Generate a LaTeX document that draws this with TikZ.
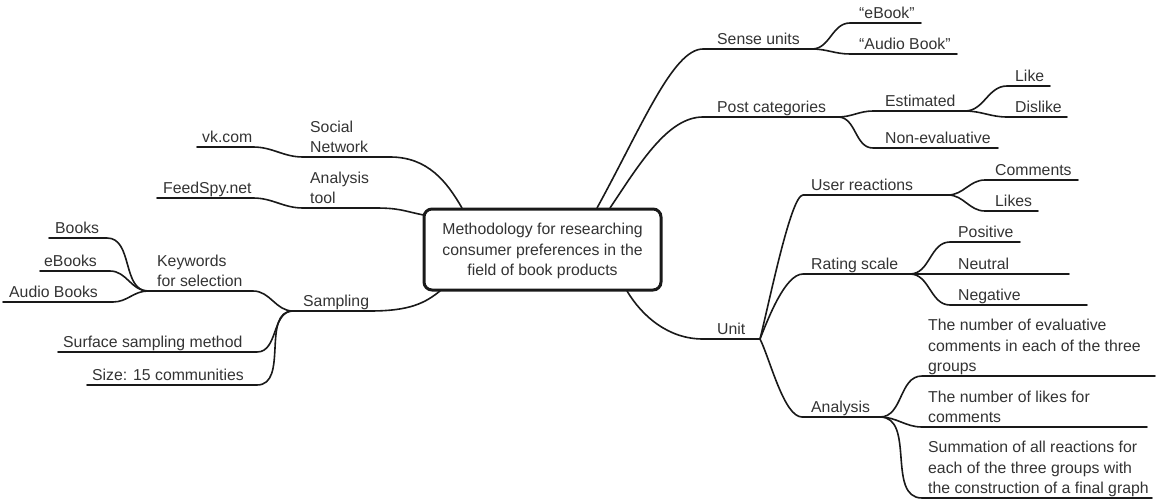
\documentclass[tikz,border=0pt]{standalone}
\usepackage{fontspec}
\setmainfont{Liberation Sans}
\definecolor{lc}{gray}{0.1}
\definecolor{tc}{gray}{0.2}
\newcommand\mapfont{\fontsize{15.8}{20.5}\selectfont}
\begin{document}
\begin{tikzpicture}[x=1pt,y=-1pt,
  br/.style={line width=1.6pt, draw=lc, line cap=round, line join=round},
  lbl/.style={anchor=south west, inner sep=0pt, text depth=0pt, align=left, font=\mapfont, text=tc},
  rootbox/.style={draw=lc, line width=3pt, rounded corners=8pt, minimum width=237pt, minimum height=81pt,
    align=center, font=\mapfont, text=tc, text depth=0pt, inner sep=0pt}]
\useasboundingbox (0,0) rectangle (1157,500);

% ---------- root ----------
\node[rootbox] (root) at (542.5,249.5) {Methodology for researching\\consumer preferences in the\\field of book products};
\coordinate (rTL) at (462,208);
\coordinate (rL) at (423.5,215);
\coordinate (rBL) at (440,291);
\coordinate (rTR1) at (597,208);
\coordinate (rTR2) at (610,208);
\coordinate (rBR) at (627,291);

% ---------- left coordinates ----------
\coordinate (vkL) at (197,147); \coordinate (vkR) at (253,147);
\coordinate (snL) at (303,157); \coordinate (snR) at (390,157);
\coordinate (fsL) at (157,198); \coordinate (fsR) at (253,198);
\coordinate (atL) at (303,208); \coordinate (atR) at (375,208);
\coordinate (kwL) at (148,291); \coordinate (kwR) at (253,291);
\coordinate (bkL) at (49,238);  \coordinate (bkR) at (107,238);
\coordinate (ebsL) at (40,271); \coordinate (ebsR) at (110,271);
\coordinate (adL) at (3,302);   \coordinate (adR) at (113,302);
\coordinate (spL) at (293,311); \coordinate (spR) at (370,311);
\coordinate (ssL) at (58,352);  \coordinate (ssR) at (257,352);
\coordinate (szL) at (87,385);  \coordinate (szR) at (257,385);

% ---------- right coordinates ----------
\coordinate (suL) at (703,49);  \coordinate (suR) at (812,49);
\coordinate (pcL) at (703,117); \coordinate (pcR) at (838,117);
\coordinate (ebL) at (850,23);  \coordinate (ebR) at (921,23);
\coordinate (abL) at (850,54);  \coordinate (abR) at (957,54);
\coordinate (esL) at (873,111); \coordinate (esR) at (965,111);
\coordinate (neL) at (873,148); \coordinate (neR) at (998,148);
\coordinate (lkL) at (1007,86); \coordinate (lkR) at (1050,86);
\coordinate (dlL) at (1007,117);\coordinate (dlR) at (1067,117);
\coordinate (unL) at (703,339); \coordinate (unR) at (760,339);
\coordinate (urL) at (803,195); \coordinate (urR) at (948,195);
\coordinate (cmL) at (985,180); \coordinate (cmR) at (1078,180);
\coordinate (liL) at (985,211); \coordinate (liR) at (1038,211);
\coordinate (rsL) at (803,274); \coordinate (rsR) at (910,274);
\coordinate (poL) at (950,242); \coordinate (poR) at (1020,242);
\coordinate (nuL) at (950,274); \coordinate (nuR) at (1069,274);
\coordinate (ngL) at (950,305); \coordinate (ngR) at (1087,305);
\coordinate (anL) at (802,417); \coordinate (anR) at (880,417);
\coordinate (evL) at (922,376); \coordinate (evR) at (1155,376);
\coordinate (lcL) at (922,427); \coordinate (lcR) at (1147,427);
\coordinate (smL) at (922,498); \coordinate (smR) at (1152,498);

% ---------- left branches ----------
\draw[br] (vkL) -- (vkR) to[out=0,in=180] (snL) -- (snR) .. controls +(38,0) and +(-15,-26) .. (rTL);
\draw[br] (fsL) -- (fsR) to[out=0,in=180] (atL) -- (atR) .. controls +(25,0) and +(-20,-4) .. (rL);
\draw[br] (kwL) -- (kwR) to[out=0,in=180] (spL) -- (spR) .. controls +(40,0) and +(-15,12) .. (rBL);
\draw[br] (bkL) -- (bkR) to[out=0,in=180] (kwL);
\draw[br] (ebsL) -- (ebsR) to[out=0,in=180] (kwL);
\draw[br] (adL) -- (adR) to[out=0,in=180] (kwL);
\draw[br] (ssL) -- (ssR) to[out=0,in=180] (spL);
\draw[br] (szL) -- (szR) to[out=0,in=180] (spL);

% ---------- right branches ----------
\draw[br] (rTR1) .. controls +(45,-82) and +(-30,0) .. (suL) -- (suR);
\draw[br] (suR) to[out=0,in=180] (ebL) -- (ebR);
\draw[br] (suR) to[out=0,in=180] (abL) -- (abR);
\draw[br] (rTR2) .. controls +(30,-45) and +(-35,0) .. (pcL) -- (pcR);
\draw[br] (pcR) to[out=0,in=180] (esL) -- (esR);
\draw[br] (pcR) to[out=0,in=180] (neL) -- (neR);
\draw[br] (esR) to[out=0,in=180] (lkL) -- (lkR);
\draw[br] (esR) to[out=0,in=180] (dlL) -- (dlR);
\draw[br] (rBR) .. controls +(15,25) and +(-35,0) .. (unL) -- (unR);
\draw[br] (unR) .. controls +(10,-40) and +(-12,0) .. (urL) -- (urR);
\draw[br] (urR) to[out=0,in=180] (cmL) -- (cmR);
\draw[br] (urR) to[out=0,in=180] (liL) -- (liR);
\draw[br] (unR) .. controls +(8,-20) and +(-18,0) .. (rsL) -- (rsR);
\draw[br] (rsR) to[out=0,in=180] (poL) -- (poR);
\draw[br] (rsR) -- (nuL) -- (nuR);
\draw[br] (rsR) to[out=0,in=180] (ngL) -- (ngR);
\draw[br] (unR) .. controls +(10,20) and +(-18,0) .. (anL) -- (anR);
\draw[br] (anR) to[out=0,in=180] (evL) -- (evR);
\draw[br] (anR) to[out=0,in=180] (lcL) -- (lcR);
\draw[br] (anR) to[out=0,in=180] (smL) -- (smR);

% ---------- left labels ----------
\node[lbl] (vk) at (202,143) {vk.com};
\node[lbl] (sn) at (310,153) {Social\\Network};
\node[lbl] (fs) at (163,194) {FeedSpy.net};
\node[lbl] (at) at (310,204) {Analysis\\tool};
\node[lbl] (kw) at (157,287) {Keywords\\for selection};
\node[lbl] (bk) at (55,234) {Books};
\node[lbl] (ebs) at (44,267) {eBooks};
\node[lbl] (ad) at (9,298) {Audio Books};
\node[lbl] (sp) at (303,307) {Sampling};
\node[lbl] (ss) at (63,348) {Surface sampling method};
\node[lbl] (sz) at (92,381) {Size: 15 communities};

% ---------- right labels ----------
\node[lbl] (su) at (717,45) {Sense units};
\node[lbl] (eb) at (859,19) {“eBook”};
\node[lbl] (ab) at (859,50) {“Audio Book”};
\node[lbl] (pc) at (717,113) {Post categories};
\node[lbl] (es) at (885,107) {Estimated};
\node[lbl] (ne) at (885,144) {Non-evaluative};
\node[lbl] (lk) at (1015,82) {Like};
\node[lbl] (dl) at (1015,113) {Dislike};
\node[lbl] (ur) at (811,191) {User reactions};
\node[lbl] (cm) at (995,176) {Comments};
\node[lbl] (li) at (995,207) {Likes};
\node[lbl] (rs) at (811,270) {Rating scale};
\node[lbl] (po) at (958,238) {Positive};
\node[lbl] (nu) at (958,270) {Neutral};
\node[lbl] (ng) at (958,301) {Negative};
\node[lbl] (un) at (717,335) {Unit};
\node[lbl] (an) at (811,413) {Analysis};
\node[lbl] (ev) at (928,372) {The number of evaluative\\comments in each of the three\\groups};
\node[lbl] (lc) at (928,423) {The number of likes for\\comments};
\node[lbl] (sm) at (928,494) {Summation of all reactions for\\each of the three groups with\\the construction of a final graph};
\end{tikzpicture}
\end{document}
